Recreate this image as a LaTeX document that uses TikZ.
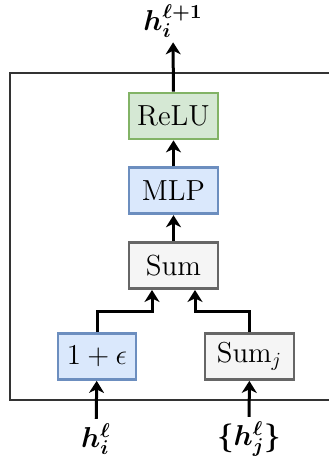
\documentclass[tikz,border=0pt]{standalone}
\usepackage{bm}
\usetikzlibrary{arrows.meta,positioning}
\definecolor{reluFill}{HTML}{D5E8D4}
\definecolor{reluLine}{HTML}{82B366}
\definecolor{mlpFill}{HTML}{DAE8FC}
\definecolor{mlpLine}{HTML}{6C8EBF}
\definecolor{sumFill}{HTML}{F5F5F5}
\definecolor{sumLine}{HTML}{666666}

\begin{document}
\begin{tikzpicture}[x=1pt,y=1pt,>={Stealth[length=6pt,width=7.5pt,inset=1.8pt]},line width=1.5pt,node distance=13pt,
                    block/.style={rectangle,draw,line width=1.4pt,minimum width=44.5pt,
                                  minimum height=23pt,inner sep=2pt,font=\fontsize{14.5}{16}\selectfont},
                    relu block/.style={block,draw=reluLine,fill=reluFill},
                    mlp block/.style={block,draw=mlpLine,fill=mlpFill},
                    sum block/.style={block,draw=sumLine,fill=sumFill},
                    io label/.style={inner sep=1.5pt,font=\fontsize{14.5}{16}\selectfont}]
  \useasboundingbox (0,0) rectangle (164,235);
  \draw[line width=0.7pt,draw=black!80] (5,35) rectangle (172,198.5);
  \node[relu block] (relu) at (86.75,177) {ReLU};
  \node[mlp block] (mlp) [below=of relu] {MLP};
  \node[sum block] (sum) [below=of mlp] {Sum};
  \node[mlp block,minimum width=39pt] (eps) at (48.5,56.75) {$1+\epsilon$};
  \node[sum block] (sumj) at (124.75,56.75) {$\mathrm{Sum}_j$};
  \node[io label] (out) at (86.5,224.5) {$\bm{h_i^{\ell+1}}$};
  \node[io label] (hi) at (48,15.5) {$\bm{h_i^{\ell}}$};
  \node[io label] (hj) at (124.5,15.5) {$\bm{\{h_j^{\ell}\}}$};
  % connectors
  \draw[->] (relu) -- (out);
  \draw[->] (mlp) -- (relu);
  \draw[->] (sum) -- (mlp);
  \draw[->] (eps.north) -- ++(0,10.25) -| ([xshift=-10.75pt]sum.south);
  \draw[->] (sumj.north) -- ++(0,10.25) -| ([xshift=10.75pt]sum.south);
  \draw[->] (hi) -- (eps);
  \draw[->] (hj) -- (sumj);
\end{tikzpicture}
\end{document}
